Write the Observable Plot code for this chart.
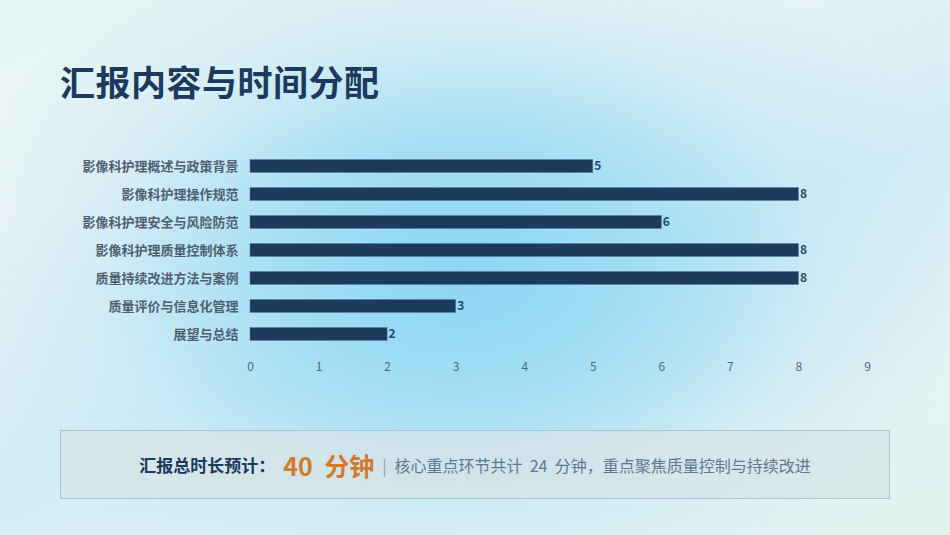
<!DOCTYPE html>
<html>
<head>
<meta charset="utf-8">
<script src="https://cdn.jsdelivr.net/npm/d3@7"></script>
<script src="https://cdn.jsdelivr.net/npm/@observablehq/plot@0.6"></script>
<style>
  html, body { margin: 0; padding: 0; }
  body {
    width: 950px; height: 535px; overflow: hidden; position: relative;
    font-family: "Noto Sans CJK SC", "Noto Sans", sans-serif;
    background:
      radial-gradient(ellipse 520px 360px at 460px 270px, rgba(135,213,242,0.95) 0%, rgba(150,218,244,0.8) 35%, rgba(190,230,245,0.45) 70%, rgba(220,240,243,0) 100%),
      linear-gradient(160deg, #e3f4f3 0%, #eef5f5 25%, #d2ecf5 55%, #e6f3f3 80%, #e1f3ef 100%);
  }
  #title {
    position: absolute; left: 60px; top: 55px; margin: 0;
    font-size: 35px; font-weight: 700; color: #1c3a5c; letter-spacing: 0.5px;
  }
  #chart { position: absolute; left: 0; top: 0; }
  #summary {
    position: absolute; left: 60px; top: 430px; width: 830px; height: 69px;
    box-sizing: border-box; border: 1px solid rgba(160,190,205,0.8);
    background: rgba(215,226,230,0.7);
    display: flex; align-items: center; justify-content: center;
    font-size: 16px; color: #5d7a90; white-space: pre;
  }
  #summary .lead { font-weight: 700; color: #1c3a5c; font-size: 17px; }
  #summary .big { font-weight: 700; color: #d27a2c; font-size: 25px; margin: 0 6px 0 8px; }
  #summary .sep { color: #8aa0b0; margin: 0 8px 0 2px; font-size: 16px; }
</style>
</head>
<body>
<h1 id="title">汇报内容与时间分配</h1>
<div id="chart"></div>
<div id="summary"><span class="lead">汇报总时长预计：</span><span class="big">40  分钟</span><span class="sep">|</span><span>核心重点环节共计  24  分钟，重点聚焦质量控制与持续改进</span></div>
<script>
const topics = [
  "影像科护理概述与政策背景",
  "影像科护理操作规范",
  "影像科护理安全与风险防范",
  "影像科护理质量控制体系",
  "质量持续改进方法与案例",
  "质量评价与信息化管理",
  "展望与总结"
];
const minutes = [5, 8, 6, 8, 8, 3, 2];
const xTicks = [0, 1, 2, 3, 4, 5, 6, 7, 8, 9];

const data = topics.map((t, i) => ({topic: t, value: minutes[i]}));

const chart = Plot.plot({
  width: 950,
  height: 386,
  marginLeft: 250,
  marginRight: 83,
  marginTop: 144.5,
  marginBottom: 30.5,
  style: {background: "transparent", fontFamily: "'Noto Sans CJK SC', 'Noto Sans', sans-serif"},
  x: {domain: [0, 9], ticks: xTicks, label: null},
  y: {domain: topics, padding: 0.54, round: false, label: null},
  marks: [
    Plot.axisX({ticks: xTicks, tickSize: 0, tickPadding: 6, fontSize: 12, color: "#4f6678", label: null}),
    Plot.axisY({tickSize: 0, tickPadding: 12, fontSize: 13, fontWeight: 700, color: "#4f6072", label: null}),
    Plot.barX(data, {x: "value", y: "topic", fill: "#1b3a5c", stroke: "#5a7d98", strokeWidth: 0.6}),
    Plot.text(data, {x: "value", y: "topic", text: d => String(d.value), textAnchor: "start", dx: 1, fontSize: 12, fontWeight: 700, fill: "#2a4868"})
  ]
});
document.getElementById("chart").appendChild(chart);
</script>
</body>
</html>
